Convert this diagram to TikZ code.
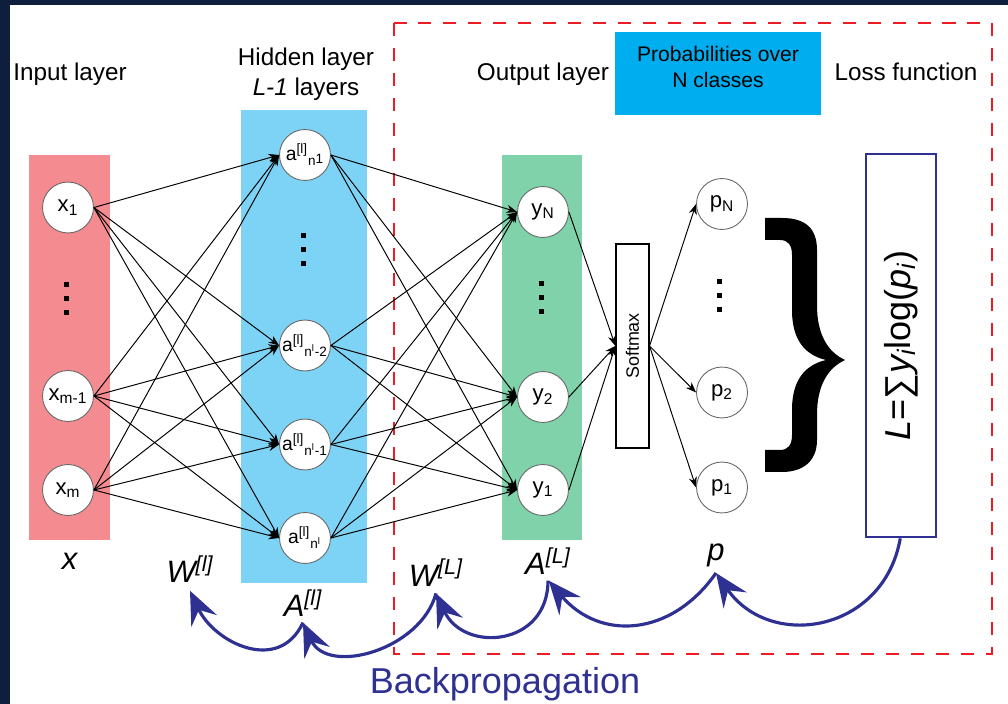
\documentclass[tikz,border=0pt]{standalone}
\usepackage{fontspec}
\setmainfont{Liberation Sans}
\usetikzlibrary{arrows.meta}
\definecolor{framenavy}{HTML}{0D1F3C}
\definecolor{inred}{HTML}{F48B90}
\definecolor{hidblue}{HTML}{7DD3F5}
\definecolor{outgreen}{HTML}{80D2AA}
\definecolor{probcyan}{HTML}{00AEEF}
\definecolor{dashred}{HTML}{ED1C24}
\definecolor{bpnavy}{HTML}{2E3192}
\begin{document}
\begin{tikzpicture}[scale=0.2,
  neuron/.style={circle,draw=black!60,fill=white,line width=0.5pt,minimum size=29pt,inner sep=0pt,font=\fontsize{12.6}{14}\selectfont},
  hneuron/.style={neuron,font=\fontsize{11}{12}\selectfont},
  conn/.style={line width=0.55pt,-{Stealth[length=6pt,width=4.6pt]}},
  backarr/.style={bpnavy,line width=1.8pt,-{Stealth[length=19pt,width=16pt,inset=7pt]}},
  heading/.style={font=\fontsize{13.8}{17}\selectfont,align=center},
  varlbl/.style={anchor=base,inner sep=3pt,font=\fontsize{17.6}{20}\selectfont}]
\useasboundingbox (0,0) rectangle (100.8,-70.4);
% dark frame
\fill [framenavy] (0,0) rectangle (1.0,-70.4);
\fill [framenavy] (0,0) rectangle (100.8,-0.5);
% layer bands
\fill [inred] (2.9,-15.5) rectangle (11.0,-54.0);
\fill [hidblue] (24.1,-11.0) rectangle (36.7,-58.3);
\fill [outgreen] (50.2,-15.5) rectangle (58.2,-54.0);
\draw [dashred,line width=1.7pt,dash pattern=on 7.4pt off 6.8pt] (39.4,-2.3) rectangle (99.2,-65.4);
% headings
\node [heading] (hin) at (7.0,-7.45) {Input layer};
\node [heading] (hhid) at (30.6,-7.45) {Hidden layer\\\textit{L-1} layers};
\node [heading] (hout) at (54.3,-7.45) {Output layer};
\node [heading] (hloss) at (90.6,-7.15) {Loss function};
\node [fill=probcyan,minimum width=117pt,minimum height=47.2pt,inner sep=0pt] (prob) at (71.8,-7.35) {};
\node [font=\fontsize{12}{14.5}\selectfont,align=center] (probtxt) at (71.8,-6.7) {Probabilities over\\N classes};
% neurons
\node [neuron] (x1) at (6.8,-20.75) {x\textsubscript{1}};
\node [neuron] (xm1) at (6.8,-39.6) {x\textsubscript{m-1}};
\node [neuron] (xm) at (6.8,-49.0) {x\textsubscript{m}};
\node [hneuron] (a1) at (30.5,-15.5) {a\textsuperscript{[l]}\textsubscript{n\raisebox{0.3ex}{1}}};
\node [hneuron] (al2) at (30.5,-34.55) {a\textsuperscript{[l]}\textsubscript{n\textsuperscript{l}-2}};
\node [hneuron] (al1) at (30.5,-44.45) {a\textsuperscript{[l]}\textsubscript{n\textsuperscript{l}-1}};
\node [hneuron] (al) at (30.5,-53.8) {a\textsuperscript{[l]}\textsubscript{n\textsuperscript{l}}};
\node [neuron] (yN) at (54.3,-21.2) {y\textsubscript{N}};
\node [neuron] (y2) at (54.3,-39.7) {y\textsubscript{2}};
\node [neuron] (y1) at (54.3,-49.0) {y\textsubscript{1}};
\node [neuron] (pN) at (72.2,-20.4) {p\textsubscript{N}};
\node [neuron] (p2) at (72.2,-39.25) {p\textsubscript{2}};
\node [neuron] (p1) at (72.2,-48.75) {p\textsubscript{1}};
\node [draw,line width=0.6pt,fill=white,minimum width=18.8pt,minimum height=116.1pt,inner sep=0pt,font=\fontsize{10.2}{12}\selectfont] (sm) at (63.25,-34.6) {\rotatebox{90}{Softmax}};
\node [draw=bpnavy,line width=1.5pt,minimum width=39.8pt,minimum height=218pt,inner sep=0pt,font=\fontsize{20.5}{24}\selectfont] (loss) at (90.1,-34.55) {\rotatebox{90}{\textit{L}=∑\textit{y\textsubscript{i}}log(\textit{p\textsubscript{i}})}};
% dots
\foreach \cx/\cy in {6.6/-29.9, 30.3/-25.0, 54.1/-29.8, 71.9/-29.6}
  \foreach \d in {-1.4,0,1.4}
    \fill (\cx-0.25,\cy+\d-0.25) rectangle ++(0.5,0.5);
% weights
\foreach \i in {x1,xm1,xm}
  \foreach \j in {a1,al2,al1,al}
    \draw [conn] (\i.east) -- (\j.west);
\foreach \i in {a1,al2,al1,al}
  \foreach \j in {yN,y2,y1}
    \draw [conn] (\i.east) -- (\j.west);
\foreach \i in {yN,y2,y1}
  \draw [conn] (\i.east) -- (sm.west);
\foreach \j in {pN,p2,p1}
  \draw [conn] (sm.east) -- (\j.west);
% brace
\fill (76.5,-21.8) -- (78.2,-21.8) .. controls (80.5,-21.8) and (81.7,-22.8) .. (81.7,-25.0) -- (81.7,-30.5) .. controls (81.7,-33.5) and (82.8,-35.2) .. (84.5,-36.0) .. controls (82.8,-36.8) and (81.7,-38.5) .. (81.7,-41.5) -- (81.7,-44.0) .. controls (81.7,-46.2) and (80.2,-47.2) .. (78.2,-47.2) -- (76.5,-47.2) -- (76.5,-45.0) -- (78.0,-45.0) .. controls (78.8,-45.0) and (79.2,-44.5) .. (79.2,-43.5) -- (79.2,-41.0) .. controls (79.2,-38.0) and (80.5,-36.5) .. (82.6,-36.0) .. controls (80.5,-35.5) and (79.2,-34.0) .. (79.2,-31.0) -- (79.2,-25.5) .. controls (79.2,-24.5) and (78.8,-24.0) .. (78.0,-24.0) -- (76.5,-24.0) -- cycle;
% variable labels
\node [varlbl] (lblx) at (7.0,-57.0) {\textit{x}};
\node [varlbl] (lblWl) at (19.0,-58.3) {\textit{W\textsuperscript{[l]}}};
\node [varlbl] (lblAl) at (30.3,-61.7) {\textit{A\textsuperscript{[l]}}};
\node [varlbl] (lblWL) at (43.6,-58.6) {\textit{W\textsuperscript{[L]}}};
\node [varlbl] (lblAL) at (54.8,-57.5) {\textit{A\textsuperscript{[L]}}};
\node [varlbl] (lblp) at (71.6,-56.1) {\textit{p}};
% backpropagation
\draw [backarr] ([xshift=-2pt]loss.south) to[out=-100,in=-55,looseness=1.3] (lblp.south);
\draw [backarr] (lblp.south) to[out=-125,in=-50,looseness=1.2] ([xshift=2pt]lblAL.south);
\draw [backarr] (lblAL.south) to[out=-90,in=-65,looseness=1.5] ([yshift=-5pt]lblWL.south);
\draw [backarr] ([yshift=-5pt]lblWL.south) to[out=-105,in=-65,looseness=1.1] (lblAl.south);
\draw [backarr] (lblAl.south) to[out=-115,in=-65,looseness=1.25] ([yshift=-6pt]lblWl.south);
\node [anchor=base,text=bpnavy,font=\fontsize{20.5}{24}\selectfont] (bp) at (50.5,-69.3) {Backpropagation};
\end{tikzpicture}
\end{document}
